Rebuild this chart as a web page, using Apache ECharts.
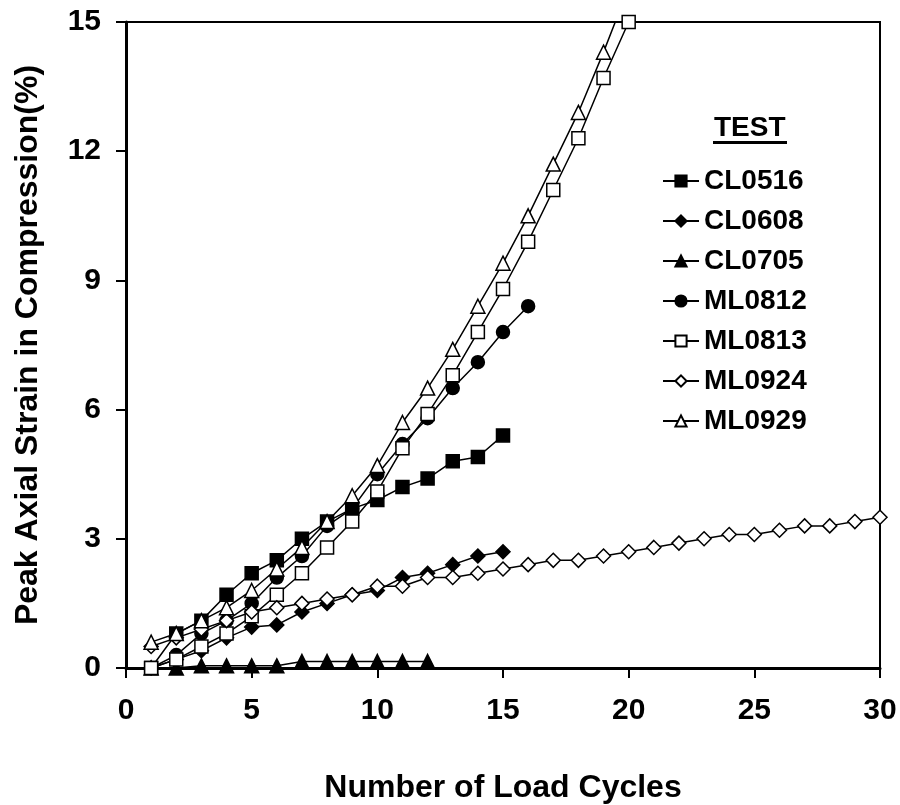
<!DOCTYPE html>
<html>
<head>
<meta charset="utf-8">
<script src="https://cdn.jsdelivr.net/npm/echarts@6/dist/echarts.min.js"></script>
<style>
  html, body { margin: 0; padding: 0; background: #fff; }
  #chart { width: 900px; height: 805px; }
</style>
</head>
<body>
<div id="chart"></div>
<script>
// load cycles
const cyclesShort = [1, 2, 3, 4, 5, 6, 7, 8, 9, 10, 11, 12, 13, 14, 15]
const cycles16 = [1, 2, 3, 4, 5, 6, 7, 8, 9, 10, 11, 12, 13, 14, 15, 16]
const cycles12 = [1, 2, 3, 4, 5, 6, 7, 8, 9, 10, 11, 12]
const cycles20 = [1, 2, 3, 4, 5, 6, 7, 8, 9, 10, 11, 12, 13, 14, 15, 16, 17, 18, 19, 20]
const cycles30 = [1, 2, 3, 4, 5, 6, 7, 8, 9, 10, 11, 12, 13, 14, 15, 16, 17, 18, 19, 20,
  21, 22, 23, 24, 25, 26, 27, 28, 29, 30]

// peak axial strain (%)
const cl0516 = [0, 0.8, 1.1, 1.7, 2.2, 2.5, 3.0, 3.4, 3.7, 3.9, 4.2, 4.4, 4.8, 4.9, 5.4]
const cl0608 = [0, 0.2, 0.4, 0.7, 0.95, 1.0, 1.3, 1.5, 1.7, 1.8, 2.1, 2.2, 2.4, 2.6, 2.7]
const cl0705 = [0, 0, 0.05, 0.05, 0.05, 0.05, 0.15, 0.15, 0.15, 0.15, 0.15, 0.15]
const ml0812 = [0, 0.3, 0.8, 1.1, 1.5, 2.1, 2.6, 3.3, 3.7, 4.5, 5.2, 5.8, 6.5, 7.1, 7.8, 8.4]
const ml0813 = [0, 0.2, 0.5, 0.8, 1.2, 1.7, 2.2, 2.8, 3.4, 4.1, 5.1, 5.9, 6.8, 7.8, 8.8, 9.9,
  11.1, 12.3, 13.7, 15.0]
const ml0924 = [0.5, 0.7, 0.9, 1.1, 1.3, 1.4, 1.5, 1.6, 1.7, 1.9, 1.9, 2.1, 2.1, 2.2, 2.3, 2.4,
  2.5, 2.5, 2.6, 2.7, 2.8, 2.9, 3.0, 3.1, 3.1, 3.2, 3.3, 3.3, 3.4, 3.5]
const ml0929 = [0.6, 0.8, 1.1, 1.4, 1.8, 2.3, 2.8, 3.4, 4.0, 4.7, 5.7, 6.5, 7.4, 8.4, 9.4, 10.5,
  11.7, 12.9, 14.3, 15.8]

const font = 'Liberation Sans, Arial, sans-serif'

function pairs(xs, ys) {
  return ys.map((v, i) => [xs[i], v])
}

// 系列样式
function makeSeries(name, xs, ys, symbol, filled, size) {
  return {
    name: name,
    type: 'line',
    data: pairs(xs, ys),
    symbol: symbol,
    symbolSize: size,
    showAllSymbol: true,
    clip: true,
    lineStyle: { color: '#000', width: 1.5 },
    itemStyle: {
      color: filled ? '#000' : '#fff',
      borderColor: '#000',
      borderWidth: 1.5
    },
    emphasis: { disabled: true },
    z: 3
  }
}

const chart = echarts.init(document.getElementById('chart'))
chart.setOption({
  animation: false,
  backgroundColor: '#fff',
  textStyle: { fontFamily: font },
  grid: {
    left: 126, right: 20, top: 22, bottom: 137,
    outerBoundsMode: 'none',
    containLabel: false,
    show: true, borderColor: '#000', borderWidth: 2, backgroundColor: 'transparent'
  },
  legend: {
    orient: 'vertical',
    left: 657,
    top: 162,
    itemWidth: 36,
    itemHeight: 14,
    itemGap: 12,
    textStyle: {
      fontFamily: font, fontWeight: 'bold', fontSize: 28, color: '#000',
      lineHeight: 28
    },
    data: ['CL0516', 'CL0608', 'CL0705', 'ML0812', 'ML0813', 'ML0924', 'ML0929']
  },
  graphic: [
    {
      type: 'text', left: 714, top: 114,
      style: { text: 'TEST', font: 'bold 28px ' + font, fill: '#000' }
    },
    {
      type: 'rect', left: 713, top: 141,
      shape: { width: 74, height: 3 },
      style: { fill: '#000' }
    }
  ],
  xAxis: {
    type: 'value',
    min: 0, max: 30, interval: 5,
    name: 'Number of Load Cycles',
    nameLocation: 'middle',
    nameGap: 104,
    nameTextStyle: { fontFamily: font, fontWeight: 'bold', fontSize: 32, color: '#000' },
    axisLine: { onZero: false, lineStyle: { color: '#000', width: 3 } },
    axisTick: { show: true, length: 10, lineStyle: { color: '#000', width: 2 } },
    axisLabel: { margin: 28, fontFamily: font, fontWeight: 'bold', fontSize: 30, color: '#000' },
    splitLine: { show: false }
  },
  yAxis: {
    type: 'value',
    min: 0, max: 15, interval: 3,
    name: 'Peak Axial Strain in Compression(%)',
    nameLocation: 'middle',
    nameGap: 82,
    nameTextStyle: { fontFamily: font, fontWeight: 'bold', fontSize: 32, color: '#000' },
    axisLine: { show: true, onZero: false, lineStyle: { color: '#000', width: 3 } },
    axisTick: { show: true, length: 10, lineStyle: { color: '#000', width: 2 } },
    axisLabel: { margin: 25, fontFamily: font, fontWeight: 'bold', fontSize: 30, color: '#000' },
    splitLine: { show: false }
  },
  series: [
    makeSeries('CL0516', cyclesShort, cl0516, 'rect', true, 13),
    makeSeries('CL0608', cyclesShort, cl0608, 'diamond', true, 14),
    makeSeries('CL0705', cycles12, cl0705, 'triangle', true, 14),
    makeSeries('ML0812', cycles16, ml0812, 'circle', true, 13),
    makeSeries('ML0813', cycles20, ml0813, 'rect', false, 13),
    makeSeries('ML0924', cycles30, ml0924, 'diamond', false, 14),
    makeSeries('ML0929', cycles20, ml0929, 'triangle', false, 14)
  ]
})
</script>
</body>
</html>
